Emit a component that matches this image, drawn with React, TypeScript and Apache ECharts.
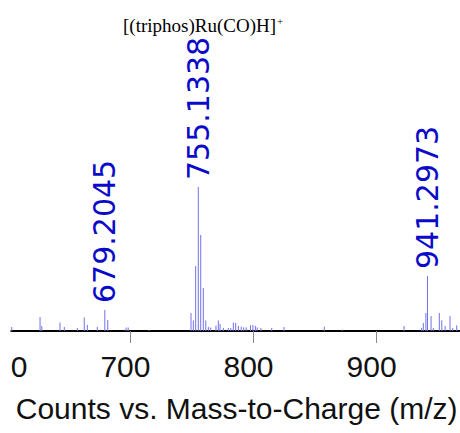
import React, { useEffect, useRef } from "react";
import * as echarts from "echarts";

// m/z positions of the sticks and their relative intensities (% of base peak)
const mzValues = [
  603.6, 626.6, 628.0, 642.8, 646.3, 656.9, 662.5, 665.0, 673.1, 679.2045, 681.6,
  696.5, 698.2, 715.0,
  749.2, 751.1, 753.0, 755.1338, 757.1, 759.2, 761.2, 763.3, 765.2, 769.5, 771.4,
  772.8, 775.5, 779.5, 781.5, 783.6, 785.5, 787.7, 790.0, 792.0, 794.0, 797.5,
  799.5, 801.5, 803.0, 806.0, 814.8, 824.8, 857.5, 872.0,
  922.3, 936.5, 937.9, 940.0, 941.2973, 944.2, 946.0, 950.9, 952.9, 955.6, 959.6,
  961.8, 965.0,
];
const intensities = [
  2.8, 9.7, 3.5, 5.9, 2.8, 2.1, 9.4, 4.2, 2.8, 14.6, 7.6,
  2.4, 2.4, 0.8,
  12.5, 7.3, 45.1, 100, 66.7, 29.9, 7.3, 2.8, 2.4, 3.8, 7.3,
  4.9, 2.1, 2.1, 2.1, 5.9, 5.6, 3.5, 3.0, 2.5, 2.5, 4.0,
  4.2, 3.5, 2.5, 2.1, 2.1, 2.8, 3.0, 1.0,
  3.5, 2.1, 5.6, 12.5, 38.2, 10.4, 2.1, 12.5, 7.4, 3.5, 10.4,
  2.1, 4.0,
];

// labelled peaks
const labeledMz = [679.2045, 755.1338, 941.2973];
const labeledIntensity = [14.6, 100, 38.2];

const xMin = 600;
const xMax = 967.7;
const xInterval = 100;
const xTitle = "Counts vs. Mass-to-Charge (m/z)";
const annotation = "[(triphos)Ru(CO)H]";
const annotationSup = "+";

export default function App() {
  const ref = useRef<HTMLDivElement>(null);

  useEffect(() => {
    if (!ref.current) return;
    const chart = echarts.init(ref.current, undefined, { renderer: "svg" });
    const stickData = mzValues.map((m, i) => [m, intensities[i]]);
    const labelData = labeledMz.map((m, i) => [m, labeledIntensity[i]]);

    chart.setOption({
      animation: false,
      backgroundColor: "#ffffff",
      grid: {
        left: 7.3,
        right: 0,
        top: 187,
        bottom: 102,
        containLabel: false,
        outerBoundsMode: "none",
      },
      xAxis: {
        type: "value",
        min: xMin,
        max: xMax,
        interval: xInterval,
        name: xTitle,
        nameLocation: "middle",
        nameGap: 62,
        nameTextStyle: {
          fontFamily: "Liberation Sans, Arial, sans-serif",
          fontSize: 30,
          color: "#111111",
          padding: [0, 0, 0, 6],
        },
        axisLine: { show: true, lineStyle: { color: "#000000", width: 2 } },
        axisTick: { show: true, length: 12, lineStyle: { color: "#8a8a8a", width: 1 } },
        splitLine: { show: false },
        axisLabel: {
          showMaxLabel: false,
          hideOverlap: false,
          margin: 20,
          fontFamily: "Liberation Sans, Arial, sans-serif",
          fontSize: 30,
          color: "#111111",
          formatter: (v: number) =>
            Math.abs(v % 100) < 1e-6 ? "{t|" + String(v) + "}" : "",
          rich: {
            t: {
              fontFamily: "Liberation Sans, Arial, sans-serif",
              fontSize: 30,
              color: "#111111",
              padding: [0, 10, 0, 0],
            },
          },
        },
      },
      yAxis: {
        type: "value",
        min: 0,
        max: 100,
        show: false,
      },
      series: [
        {
          type: "custom",
          data: stickData,
          renderItem: (params: any, api: any) => {
            const base = api.coord([api.value(0), 0]);
            const top = api.coord([api.value(0), api.value(1)]);
            return {
              type: "line",
              shape: { x1: base[0], y1: base[1], x2: top[0], y2: top[1] },
              style: { stroke: "#7272ea", lineWidth: 1 },
            };
          },
          z: 2,
        },
        {
          type: "scatter",
          data: labelData,
          symbolSize: 0,
          itemStyle: { color: "#0a0ac8", opacity: 1 },
          clip: false,
          label: {
            show: true,
            position: "top",
            distance: 7,
            rotate: 90,
            align: "left",
            verticalAlign: "middle",
            fontFamily: "DejaVu Sans, sans-serif",
            fontSize: 30,
            color: "#0a0ac8",
            formatter: (p: any) => p.value[0].toFixed(4),
          },
          z: 3,
        },
      ],
      graphic: [
        {
          type: "rect",
          z: 100,
          shape: { x: 0, y: 300, width: 10.5, height: 90 },
          style: { fill: "#ffffff" },
        },
        {
          type: "text",
          x: 123,
          y: 25.2,
          style: {
            text: annotation,
            fontFamily: "Liberation Serif, Times New Roman, serif",
            fontSize: 19,
            fill: "#000000",
            verticalAlign: "middle",
            align: "left",
          },
        },
        {
          type: "text",
          x: 277,
          y: 21,
          style: {
            text: annotationSup,
            fontFamily: "Liberation Serif, Times New Roman, serif",
            fontSize: 11,
            fill: "#000000",
            verticalAlign: "middle",
            align: "left",
          },
        },
      ],
    });

    return () => chart.dispose();
  }, []);

  return (
    <div
      ref={ref}
      style={{ position: "fixed", left: 0, top: 0, width: 460, height: 433 }}
    />
  );
}
